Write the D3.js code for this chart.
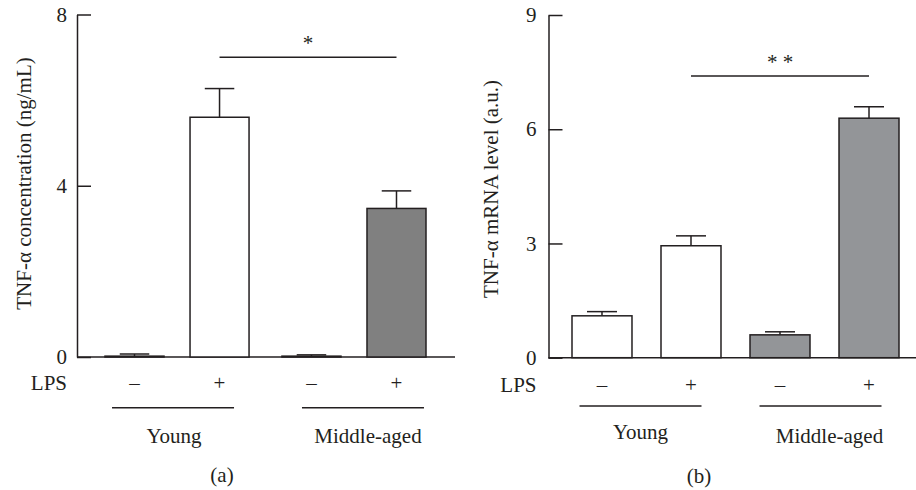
<!DOCTYPE html>
<html>
<head>
<meta charset="utf-8">
<script src="https://cdn.jsdelivr.net/npm/d3@7"></script>
<style>
  html, body { margin: 0; padding: 0; background: #fff; }
  svg { display: block; font-family: "Liberation Serif", "DejaVu Serif", serif; }
  .axis path, .axis line { stroke: #231f20; stroke-width: 1.5; }
  .axis text { font-size: 21px; fill: #231f20; font-family: "Liberation Serif", serif; }
</style>
</head>
<body>
<svg id="chart" width="916" height="490"></svg>
<script>
// Data
const groups = ['Young', 'Middle-aged'];
const lpsLevels = ['–', '+'];
const barColors = ['#ffffff', '#ffffff'];

// (a) TNF-α concentration, ng/mL
const concMean = [0.02, 5.6, 0.02, 3.47];
const concErr = [0.05, 0.67, 0.03, 0.41];
const concTicks = [0, 4, 8];
const concSig = {from: 1, to: 3, y: 7.0, label: '*'};

// (b) TNF-α mRNA level, a.u.
const mrnaMean = [1.1, 2.94, 0.6, 6.29];
const mrnaErr = [0.11, 0.26, 0.08, 0.3];
const mrnaTicks = [0, 3, 6, 9];
const mrnaSig = {from: 1, to: 3, y: 7.4, label: '* *'};

const svg = d3.select('#chart');
const ink = '#231f20';
const fontPx = '21px';

/**
 * Draw one bar panel
 */
function drawPanel(cfg) {
    const g = svg.append('g');

    const yScale = d3.scaleLinear()
        .domain([0, cfg.ticks[cfg.ticks.length - 1]])
        .range([cfg.y0, cfg.y1]);

    // group band, then LPS band inside it
    const xGroup = d3.scaleBand()
        .domain(groups)
        .range(cfg.xRange)
        .paddingInner(cfg.groupPad)
        .paddingOuter(0);

    const xLps = d3.scaleBand()
        .domain(lpsLevels)
        .range([0, xGroup.bandwidth()])
        .paddingInner(cfg.barPad)
        .paddingOuter(0);

    const bars = [];
    groups.forEach((grp, gi) => {
        lpsLevels.forEach((l, li) => {
            const i = gi * 2 + li;
            bars.push({group: grp, lps: l, mean: cfg.mean[i], err: cfg.err[i],
                       fill: gi === 0 ? barColors[li] : cfg.gray});
        });
    });
    const bx = d => xGroup(d.group) + xLps(d.lps);
    const cx = d => bx(d) + xLps.bandwidth() / 2;

    // x baseline
    g.append('line')
        .attr('x1', cfg.axisX).attr('x2', cfg.xEnd)
        .attr('y1', yScale(0)).attr('y2', yScale(0))
        .attr('stroke', ink).attr('stroke-width', 1.5);

    // error bars (upper only)
    const eb = g.selectAll('.err').data(bars).enter().append('g');
    eb.append('line')
        .attr('x1', cx).attr('x2', cx)
        .attr('y1', d => yScale(d.mean)).attr('y2', d => yScale(d.mean + d.err))
        .attr('stroke', ink).attr('stroke-width', 1.5);
    eb.append('line')
        .attr('x1', d => cx(d) - xLps.bandwidth() / 4)
        .attr('x2', d => cx(d) + xLps.bandwidth() / 4)
        .attr('y1', d => yScale(d.mean + d.err)).attr('y2', d => yScale(d.mean + d.err))
        .attr('stroke', ink).attr('stroke-width', 1.5);

    // bars
    g.selectAll('.bar').data(bars).enter().append('rect')
        .attr('x', bx)
        .attr('y', d => yScale(d.mean))
        .attr('width', xLps.bandwidth())
        .attr('height', d => yScale(0) - yScale(d.mean))
        .attr('fill', d => d.fill)
        .attr('stroke', ink)
        .attr('stroke-width', 1.5);

    // y axis, ticks pointing inward
    g.append('g')
        .attr('class', 'axis')
        .attr('transform', `translate(${cfg.axisX},0)`)
        .call(d3.axisLeft(yScale)
            .tickValues(cfg.ticks)
            .tickSizeInner(-14)
            .tickSizeOuter(0)
            .tickPadding(cfg.tickPad)
            .tickFormat(d3.format('d')))
        .call(a => a.select('.domain').attr('stroke', ink));

    // y title
    g.append('text')
        .attr('transform', `translate(${cfg.titleX},${cfg.titleY}) rotate(-90)`)
        .attr('text-anchor', 'middle')
        .attr('fill', ink)
        .style('font-size', fontPx)
        .text(cfg.title);

    // significance bracket
    const s = cfg.sig;
    const sy = yScale(s.y);
    g.append('line')
        .attr('x1', cx(bars[s.from])).attr('x2', cx(bars[s.to]))
        .attr('y1', sy).attr('y2', sy)
        .attr('stroke', ink).attr('stroke-width', 1.5);
    g.append('text')
        .attr('x', (cx(bars[s.from]) + cx(bars[s.to])) / 2)
        .attr('y', sy - 7)
        .attr('text-anchor', 'middle')
        .attr('fill', ink)
        .style('font-size', fontPx)
        .text(s.label);

    // LPS row
    g.append('text')
        .attr('x', cfg.axisX - cfg.tickPad)
        .attr('y', cfg.lpsY)
        .attr('text-anchor', 'end')
        .attr('fill', ink)
        .style('font-size', fontPx)
        .text('LPS');
    g.selectAll('.lps').data(bars).enter().append('text')
        .attr('x', cx)
        .attr('y', cfg.lpsY)
        .attr('text-anchor', 'middle')
        .attr('fill', ink)
        .style('font-size', fontPx)
        .text(d => d.lps);

    // group underline and names
    groups.forEach((grp, gi) => {
        const mid = xGroup(grp) + xGroup.bandwidth() / 2;
        const lm = mid + cfg.lineShift[gi];
        g.append('line')
            .attr('x1', lm - cfg.lineHalf).attr('x2', lm + cfg.lineHalf)
            .attr('y1', cfg.groupLineY).attr('y2', cfg.groupLineY)
            .attr('stroke', ink).attr('stroke-width', 1.5);
        g.append('text')
            .attr('x', mid + cfg.textShift[gi])
            .attr('y', cfg.groupY[gi])
            .attr('text-anchor', 'middle')
            .attr('fill', ink)
            .style('font-size', fontPx)
            .text(grp);
    });

    // panel letter
    g.append('text')
        .attr('x', cfg.letterX)
        .attr('y', cfg.letterY)
        .attr('text-anchor', 'middle')
        .attr('fill', ink)
        .style('font-size', fontPx)
        .text(cfg.letter);
}

drawPanel({
    mean: concMean, err: concErr, ticks: concTicks, sig: concSig,
    title: 'TNF-α concentration (ng/mL)', letter: '(a)',
    gray: '#808080',
    axisX: 77, xEnd: 455, y0: 357, y1: 14.5,
    xRange: [105, 426], groupPad: 0.186, barPad: 0.306,
    tickPad: 10, titleX: 31, titleY: 183.5,
    lpsY: 390, groupLineY: 407.7, lineHalf: 61, lineShift: [-4, 9],
    textShift: [-3, 14], groupY: [443, 443],
    letterX: 222, letterY: 482
});

drawPanel({
    mean: mrnaMean, err: mrnaErr, ticks: mrnaTicks, sig: mrnaSig,
    title: 'TNF-α mRNA level (a.u.)', letter: '(b)',
    gray: '#939598',
    axisX: 548.5, xEnd: 916, y0: 357.7, y1: 15,
    xRange: [572, 899], groupPad: 0.163, barPad: 0.326,
    tickPad: 12, titleX: 497.5, titleY: 189,
    lpsY: 392, groupLineY: 406, lineHalf: 61, lineShift: [-6, -4],
    textShift: [-6, 5], groupY: [439, 443],
    letterX: 699, letterY: 483
});
</script>
</body>
</html>
